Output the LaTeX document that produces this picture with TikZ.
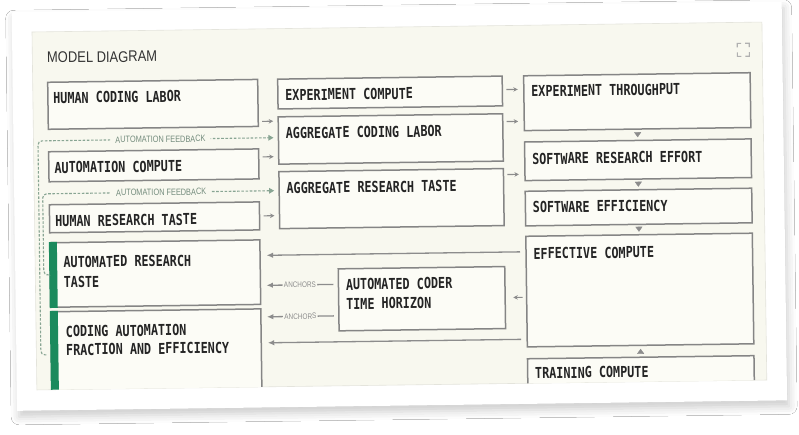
\documentclass[tikz,border=0pt]{standalone}
\usepackage{fontspec}
\usetikzlibrary{calc,arrows.meta,shadows.blur}
\newfontfamily\boxfont{DejaVu Sans Mono}[FakeStretch=0.78]
\newfontfamily\titlefont{Liberation Sans}[FakeStretch=0.84]
\newfontfamily\tagfont{Liberation Sans}[FakeStretch=0.8]
\definecolor{paper}{HTML}{F8F8EF}
\definecolor{boxfill}{HTML}{FCFCF6}
\definecolor{edge}{HTML}{858585}
\definecolor{ink}{HTML}{242424}
\definecolor{accent}{HTML}{1B8A5D}
\definecolor{agray}{HTML}{8C8C8C}
\definecolor{fbgreen}{HTML}{88A593}
\definecolor{icongray}{HTML}{B0B0B0}
\begin{document}
\begin{tikzpicture}[x=1pt,y=-1pt,
 box/.style={draw=edge,line width=1.5pt,fill=boxfill,inner sep=0pt,outer sep=0pt,anchor=north west},
 lbl/.style={inner sep=0pt,anchor=base west,text=ink,font=\boxfont\bfseries\fontsize{15.1}{19.3}\selectfont},
 sarr/.style={draw=agray,line width=1.1pt,-{Stealth[length=4.5pt,width=4.5pt]}},
 larr/.style={draw=agray,line width=1.3pt,-{Latex[length=6.5pt,width=5.5pt]}},
 tri/.style={draw=agray,line width=0.3pt,-{Triangle[length=5pt,width=7pt]}},
 fbline/.style={draw=fbgreen,line width=1.1pt,dash pattern=on 2.6pt off 1.6pt,rounded corners=4pt,-{Triangle[length=5pt,width=5.5pt]}},
 fbtag/.style={fill=paper,inner xsep=5pt,inner ysep=1pt,text=fbgreen!85!black,font=\tagfont\fontsize{9.2}{10}\selectfont},
 anctag/.style={fill=paper,inner xsep=1.2pt,inner ysep=1pt,text=agray,font=\tagfont\fontsize{8}{9}\selectfont},
 icon/.style={draw=icongray,line width=1.1pt}]
\useasboundingbox (-32,-32) rectangle (767,403);
\fill[white] (-32,-32) rectangle (767,403);
\begin{scope}[rotate=0.78,transform shape]
\path[fill=white,blur shadow={shadow xshift=2pt,shadow yshift=-6pt,shadow blur radius=8pt,shadow opacity=20}] (-20,-20) rectangle (750,378.6);
\path[fill=paper,draw=paper!92!black,line width=0.6pt] (0,0) rectangle (730,358);
\node[anchor=base west,inner sep=0pt,text=black!80,font=\titlefont\fontsize{15.4}{18}\selectfont] (title) at (14.6,31.2) {MODEL DIAGRAM};
\draw[icon] (705,25) |- (709,21) (713,21) -| (717,25) (717,30) |- (713,34) (709,34) -| (705,30);
\begin{scope}
\clip (0,0) rectangle (730,358);
% boxes
\node[box,minimum width=210pt,minimum height=47pt] (hcl) at (15,50.5) {};
\node[box,minimum width=210pt,minimum height=30pt] (ac) at (15,120) {};
\node[box,minimum width=210pt,minimum height=28pt] (hrt) at (15,173) {};
\node[box,minimum width=210pt,minimum height=64.5pt] (art) at (15,211) {};
\node[box,minimum width=210pt,minimum height=110pt] (cafe) at (15,280) {};
\node[box,minimum width=224.5pt,minimum height=29.8pt] (ec) at (245,50.5) {};
\node[box,minimum width=224.5pt,minimum height=47.3pt] (acl) at (245,88.2) {};
\node[box,minimum width=224.5pt,minimum height=57pt] (agrt) at (245,143) {};
\node[box,minimum width=166.5pt,minimum height=62pt] (acth) at (303,241) {};
\node[box,minimum width=226.5pt,minimum height=54.8pt] (et) at (491,50.5) {};
\node[box,minimum width=226.5pt,minimum height=38.6pt] (sre) at (491,116.7) {};
\node[box,minimum width=226.5pt,minimum height=34.6pt] (se) at (491,166) {};
\node[box,minimum width=226.5pt,minimum height=110.6pt] (efc) at (491,211) {};
\node[box,minimum width=226.5pt,minimum height=60pt] (tc) at (491,333.5) {};
% green bars
\fill[accent] ($(art.north west)+(-1,-0.75)$) rectangle ($(art.south west)+(7,0.75)$);
\fill[accent] ($(cafe.north west)+(-1,-0.75)$) rectangle ($(cafe.south west)+(7,0.75)$);
% texts
\node[lbl] (t-hcl) at ($(hcl.north west)+(5.2,21.3)$) {HUMAN CODING LABOR};
\node[lbl] (t-ac) at ($(ac.north west)+(5.5,21.5)$) {AUTOMATION COMPUTE};
\node[lbl] (t-hrt) at ($(hrt.north west)+(5.5,22)$) {HUMAN RESEARCH TASTE};
\node[lbl] (t-art) at ($(art.north west)+(13.2,25.1)$) {\begin{tabular}[t]{@{}l@{}}AUTOMATED RESEARCH\\[0.7pt]TASTE\end{tabular}};
\node[lbl] (t-cafe) at ($(cafe.north west)+(14.6,25.5)$) {\begin{tabular}[t]{@{}l@{}}CODING AUTOMATION\\[-1pt]FRACTION AND EFFICIENCY\end{tabular}};
\node[lbl] (t-ec) at ($(ec.north west)+(7.2,21.5)$) {EXPERIMENT COMPUTE};
\node[lbl] (t-acl) at ($(acl.north west)+(7.2,22)$) {AGGREGATE CODING LABOR};
\node[lbl] (t-agrt) at ($(agrt.north west)+(7.2,22.2)$) {AGGREGATE RESEARCH TASTE};
\node[lbl] (t-acth) at ($(acth.north west)+(7.3,21.3)$) {\begin{tabular}[t]{@{}l@{}}AUTOMATED CODER\\TIME HORIZON\end{tabular}};
\node[lbl] (t-et) at ($(et.north west)+(7.3,21)$) {EXPERIMENT THROUGHPUT};
\node[lbl] (t-sre) at ($(sre.north west)+(7.3,22.5)$) {SOFTWARE RESEARCH EFFORT};
\node[lbl] (t-se) at ($(se.north west)+(7.3,21.6)$) {SOFTWARE EFFICIENCY};
\node[lbl] (t-efc) at ($(efc.north west)+(7.3,23)$) {EFFECTIVE COMPUTE};
\node[lbl] (t-tc) at ($(tc.north west)+(7.3,20)$) {TRAINING COMPUTE};
% short arrows
\draw[sarr] ($(hcl.north east)+(4,42)$) -- ($(acl.north west)+(-5,4.3)$);
\draw[sarr] ($(ac.north east)+(4,8)$) -- ($(acl.north west)+(-5,39.8)$);
\draw[sarr] ($(hrt.north east)+(4,14)$) -- ($(agrt.north west)+(-5,44)$);
\draw[sarr] ($(ec.north east)+(4,13.5)$) -- ($(et.north west)+(-6,13.5)$);
\draw[sarr] ($(acl.north east)+(4,7.8)$) -- ($(et.north west)+(-6,45.5)$);
\draw[sarr] ($(agrt.north east)+(4,6)$) -- ($(sre.north west)+(-6,32.3)$);
\draw[sarr] ($(efc.north west)+(-4,61)$) -- ($(acth.north east)+(8.2,31)$);
% triangles in column 3
\draw[tri,shorten <=3.2pt,shorten >=3.2pt] (et.south) -- (sre.north);
\draw[tri,shorten <=3pt,shorten >=3pt] (sre.south) -- (se.north);
\draw[tri,shorten <=3pt,shorten >=3pt] (se.south) -- (efc.north);
\draw[tri,shorten <=3.5pt,shorten >=3.5pt] (tc.north) -- (efc.south);
% long arrows
\draw[larr] ($(efc.north west)+(-6,15.5)$) -- ($(art.north east)+(6.5,15.5)$);
\draw[larr] ($(efc.north west)+(-6,103)$) -- ($(cafe.north east)+(6.5,34)$);
% anchors
\draw[larr] ($(acth.north west)+(-5,15.5)$) -- node[anctag] (anc1) {ANCHORS} ($(art.north east)+(6,45.5)$);
\draw[larr] ($(acth.north west)+(-5,47)$) -- node[anctag] (anc2) {ANCHORS} ($(cafe.north east)+(6,8)$);
% automation feedback
\draw[fbline] ($(cafe.north west)+(-5,43)$) -| ($(acl.north west)+(-240.5,20.8)$) -- ($(acl.north west)+(-5,20.8)$);
\draw[fbline] ($(art.north west)+(-4,32)$) -| ($(agrt.north west)+(-236.5,19)$) -- ($(agrt.north west)+(-5,19)$);
\node[fbtag] (fb1) at (127,109) {AUTOMATION FEEDBACK};
\node[fbtag] (fb2) at (127,162) {AUTOMATION FEEDBACK};
\end{scope}
\end{scope}
\end{tikzpicture}
\end{document}
